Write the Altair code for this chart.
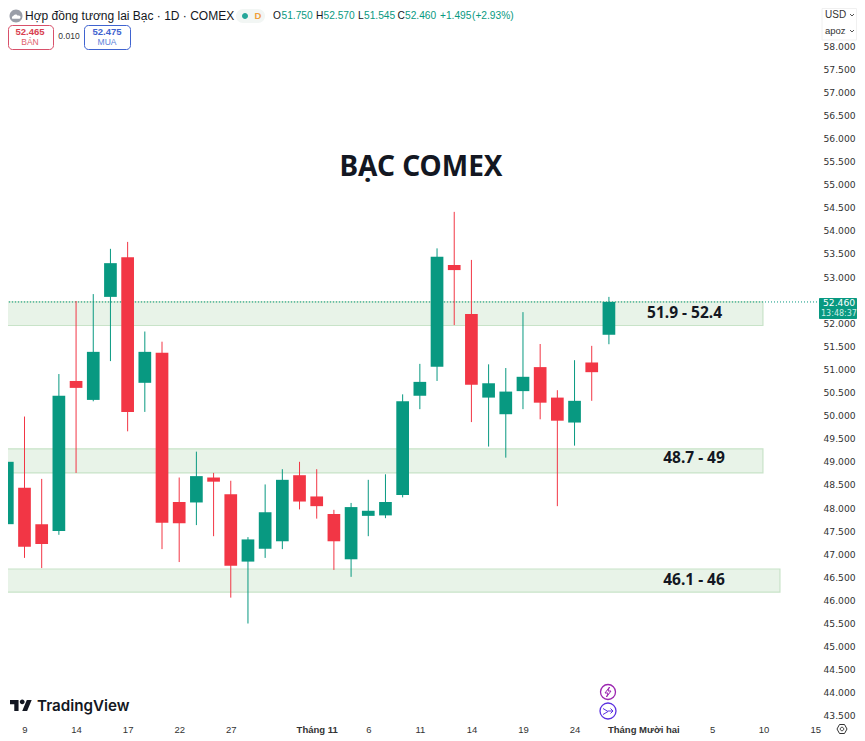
import altair as alt
import pandas as pd

# --- candle data ---
opens  = [47.65,48.44,47.65,47.50,50.75,50.34,52.57,53.43,50.71,51.36,48.13,48.12,48.66,48.30,46.84,47.12,47.28,48.71,
          48.25,47.87,46.89,47.83,47.84,48.28,50.43,51.06,53.26,52.20,50.39,50.03,50.53,51.05,50.39,49.85,51.15,51.75]
closes = [49.00,47.16,47.22,50.43,50.60,51.38,53.30,50.08,51.38,47.68,47.67,48.69,48.57,46.75,47.32,47.91,48.61,48.14,
          48.04,47.28,48.02,47.94,48.13,50.31,50.73,53.44,53.15,50.67,50.70,50.52,50.84,50.28,49.89,50.32,50.94,52.46]
highs  = [49.20,49.98,48.63,50.90,52.48,52.63,53.61,53.76,51.82,51.60,48.66,49.22,48.76,48.59,47.37,48.51,48.84,49.00,
          48.84,47.96,48.11,48.61,48.73,50.46,51.12,53.62,54.41,53.37,51.11,51.03,52.24,51.55,50.55,51.20,51.51,52.57]
lows   = [47.59,46.92,46.70,47.42,48.76,50.31,51.18,49.66,50.08,47.11,46.83,47.63,47.39,46.06,45.50,46.92,47.11,47.97,
          47.77,46.66,46.51,47.39,47.78,48.23,50.14,50.75,51.96,49.86,49.33,49.09,50.14,49.92,48.04,49.35,50.32,51.545]

zone_tops    = [52.46, 49.28, 46.68]
zone_bottoms = [51.95, 48.76, 46.18]
zone_ends    = [43.96, 43.96, 44.95]
zone_texts   = ["51.9 - 52.4", "48.7 - 49", "46.1 - 46"]
zone_text_x  = [39.4, 39.95, 39.95]
zone_text_y  = [52.22, 49.08, 46.44]

x_ticks  = [1, 4, 7, 10, 13, 18, 21, 24, 27, 30, 33, 37, 41, 44, 47]
x_labels = ["9", "14", "17", "22", "27", "Tháng 11", "6", "11", "14", "19", "24", "Tháng Mười hai", "5", "10", "15"]
y_ticks  = [43.5, 44, 44.5, 45, 45.5, 46, 46.5, 47, 47.5, 48, 48.5, 49, 49.5, 50, 50.5, 51, 51.5, 52,
            53, 53.5, 54, 54.5, 55, 55.5, 56, 56.5, 57, 57.5, 58]

GREEN, RED = "#089981", "#F23645"
ARIAL, DEJA, NOTO = "Liberation Sans", "DejaVu Sans", "Noto Sans"

df = pd.DataFrame({"i": range(len(opens)), "o": opens, "c": closes, "h": highs, "l": lows})
df["col"] = [GREEN if c >= o else RED for o, c in zip(opens, closes)]
zones = pd.DataFrame({"a": [-1, -1, -1], "b": zone_ends, "t": zone_tops, "u": zone_bottoms,
                      "txt": zone_texts, "tx": zone_text_x, "ty": zone_text_y})

label_map = "{" + ",".join(f"'{a}':'{b}'" for a, b in zip(x_ticks, x_labels)) + "}[datum.value]"
xs = alt.Scale(domain=[0.04, 47.28], nice=False, zero=False, padding=0)
ys = alt.Scale(domain=[43.368, 58.823], nice=False, zero=False, padding=0)
xax = alt.Axis(values=x_ticks, labelExpr=label_map, title=None, grid=False, domain=False, ticks=False,
               labelPadding=2, labelFont=ARIAL, labelFontSize=9.5, labelColor="#333333", labelAngle=0,
               labelOverlap=False, labelFlush=False,
               labelFontWeight={"condition": {"test": "datum.value==18||datum.value==37", "value": "bold"}, "value": "normal"})
yax = alt.Axis(values=y_ticks, format=".3f", orient="right", title=None, grid=False, domain=False, ticks=False,
               labelPadding=3, labelFont=DEJA, labelFontSize=9.2, labelColor="#333333", labelOverlap=False, labelFlush=False)
X = alt.X("i:Q", scale=xs, axis=xax)
Y = alt.Y("l:Q", scale=ys, axis=yax)

one = alt.Data(values=[{}])
OX, OY = 8, 8   # page margin

def txt(s, x, y, size=11, color="#131722", font=ARIAL, weight="normal", align="left", **kw):
    return alt.Chart(one).mark_text(text=s, fontSize=size, color=color, font=font, fontWeight=weight,
                                    align=align, baseline="middle", **kw).encode(
        x=alt.value(x - OX), y=alt.value(y - OY))

def box(x, x2, y, y2, fill="#ffffff", stroke=None, r=0, sw=1):
    kw = dict(fill=fill, cornerRadius=r)
    if stroke:
        kw.update(stroke=stroke, strokeWidth=sw)
    return alt.Chart(one).mark_rect(**kw).encode(
        x=alt.value(x - OX), x2=alt.value(x2 - OX), y=alt.value(y - OY), y2=alt.value(y2 - OY))

def sym(path, x, y, size, fill=None, stroke=None, sw=1.3):
    kw = dict(shape=path, size=size, opacity=1, filled=fill is not None)
    if fill:
        kw["fill"] = fill
        kw["strokeWidth"] = 0
    if stroke:
        kw["stroke"] = stroke
        kw["strokeWidth"] = sw
    return alt.Chart(one).mark_point(**kw).encode(x=alt.value(x - OX), y=alt.value(y - OY))

base = alt.Chart(df)
zone_rect = alt.Chart(zones).mark_rect(fill="#e8f3e8", stroke="#c8e3c8", strokeWidth=1.2, clip=True).encode(
    x=alt.X("a:Q", scale=xs, axis=xax), x2="b:Q", y=alt.Y("t:Q", scale=ys, axis=yax), y2="u:Q")
last_line = alt.Chart(pd.DataFrame({"p": [closes[-1]]})).mark_rule(
    color=GREEN, strokeWidth=1, strokeDash=[1, 2], clip=True).encode(y=alt.Y("p:Q", scale=ys, axis=yax))
wicks = base.mark_rule(strokeWidth=1, clip=True).encode(
    x=X, y=Y, y2="h:Q", color=alt.Color("col:N", scale=None, legend=None))
bodies = base.mark_bar(size=12.7, clip=True).encode(
    x=X, y=alt.Y("o:Q", scale=ys, axis=yax), y2="c:Q", color=alt.Color("col:N", scale=None, legend=None))
zone_lab = alt.Chart(zones).mark_text(font=NOTO, fontSize=15.5, fontWeight="bold", color="#131722", align="center",
                                      baseline="middle").encode(
    x=alt.X("tx:Q", scale=xs, axis=xax), y=alt.Y("ty:Q", scale=ys, axis=yax), text="txt:N")
title = alt.Chart(pd.DataFrame({"i": [24.07], "p": [55.365], "t": ["BẠC COMEX"]})).mark_text(
    font=NOTO, fontSize=28, fontWeight="bold", color="#131722", align="center", baseline="middle").encode(
    x=alt.X("i:Q", scale=xs, axis=xax), y=alt.Y("p:Q", scale=ys, axis=yax), text="t:N")

LOGO = ("M-0.222 0.5H-0.611V-0.111H-1V-0.5H-0.222Z M0.556 0.5H0.111L0.528 -0.5H0.972Z "
        "M-0.111 -0.333a0.222 0.222 0 1 0 0.444 0a0.222 0.222 0 1 0 -0.444 0Z")
CIRC = "M-1 0a1 1 0 1 0 2 0a1 1 0 1 0 -2 0Z"
CLOUD = "M-0.8 0.4A0.35 0.35 0 0 1 -0.6 -0.2A0.55 0.55 0 0 1 0.4 -0.3A0.4 0.4 0 0 1 0.8 0.4Z"
BOLT = "M0.3 -1L-0.6 0.2H0L-0.3 1L0.6 -0.2H0Z"
ARROW = "M-1 -0.5L0 0.1L-1 0.7M0 0H1M0.5 -0.5L1 0L0.5 0.5"
HEX = "M-0.5 -0.9H0.5L1 0L0.5 0.9H-0.5L-1 0Z"
CHEV = "M-1 -0.5L0 0.5L1 -0.5"

HY = 16  # header text line: the page margin cuts anything higher

layers = [
    zone_rect, last_line, wicks, bodies, zone_lab, title,
    # header
    sym(CIRC, 16, HY, 169, fill="#9a9ea8"),
    sym(CLOUD, 16, HY + 1, 81, fill="#ffffff"),
    txt("Hợp đồng tương lai Bạc · 1D · COMEX", 25, HY, size=12),
    box(236, 265, 9, 23, fill="#f2f6f4", r=7),
    sym(CIRC, 245, HY, 36, fill="#26a69a"),
    txt("D", 258, HY, size=9.5, color="#f0a03c", weight="bold", align="center"),
    txt("O", 273, HY, size=10.2), txt("51.750", 281.5, HY, size=10.2, color=GREEN),
    txt("H", 316, HY, size=10.2), txt("52.570", 323.5, HY, size=10.2, color=GREEN),
    txt("L", 358, HY, size=10.2), txt("51.545", 364, HY, size=10.2, color=GREEN),
    txt("C", 397.5, HY, size=10.2), txt("52.460", 405, HY, size=10.2, color=GREEN),
    txt("+1.495", 440, HY, size=10.2, color=GREEN), txt("(+2.93%)", 472, HY, size=10.2, color=GREEN),
    # sell / buy
    box(8.5, 53.5, 25.5, 49.5, stroke="#d8506a", r=4),
    txt("52.465", 30, 32, size=9.5, color="#d8404f", weight="bold", font=ARIAL, align="center"),
    txt("BÁN", 30, 42, size=8.5, color="#e0606a", font=ARIAL, align="center"),
    txt("0.010", 69, 36, size=8.5, color="#333333", font=ARIAL, align="center"),
    box(84.5, 130.5, 25.5, 49.5, stroke="#3f63d0", r=4),
    txt("52.475", 107, 32, size=9.5, color="#3f63d0", weight="bold", font=ARIAL, align="center"),
    txt("MUA", 107, 42, size=8.5, color="#5a80d8", font=ARIAL, align="center"),
    # currency box
    box(822, 856.5, 8.5, 40, stroke="#f0f0f0"),
    txt("USD", 825, 15, size=10, color="#333333", font=ARIAL),
    txt("apoz", 825, 31, size=9.5, color="#333333", font=ARIAL),
    sym(CHEV, 852, 15, 16, stroke="#555555", sw=1),
    sym(CHEV, 852, 31, 16, stroke="#555555", sw=1),
    # price tag
    box(819, 857, 298, 319, fill=GREEN, r=1),
    txt("52.460", 823, 303, size=9.2, color="#ffffff", font=DEJA),
    txt("13:48:37", 821, 313.5, size=8, color="#cdeee6", font=DEJA),
    # logo + icons
    sym(LOGO, 21, 705.5, 484, fill="#131722"),
    txt("TradingView", 37, 705.5, size=15.2, color="#131722", font="Inter", weight=600),
    sym(CIRC, 608, 692, 225, stroke="#9c27b0", sw=1.3),
    sym(BOLT, 608, 692, 100, stroke="#9c27b0", sw=1),
    sym(CIRC, 608, 711, 256, stroke="#5b30e0", sw=1.3),
    sym(ARROW, 608, 711, 100, stroke="#5b30e0", sw=1),
    sym(HEX, 842, 729, 100, stroke="#333333", sw=1),
    sym(CIRC, 842, 729, 12, stroke="#333333", sw=1),
]

chart = alt.layer(*layers).properties(
    width=812, height=714,
    padding={"left": 0, "top": 0, "right": 37, "bottom": 13},
    autosize=alt.AutoSizeParams(type="none"),
    background="#ffffff",
).resolve_scale(color="independent").configure_view(stroke=None)

chart.save("out.html", embed_options={"renderer": "svg", "actions": False})
